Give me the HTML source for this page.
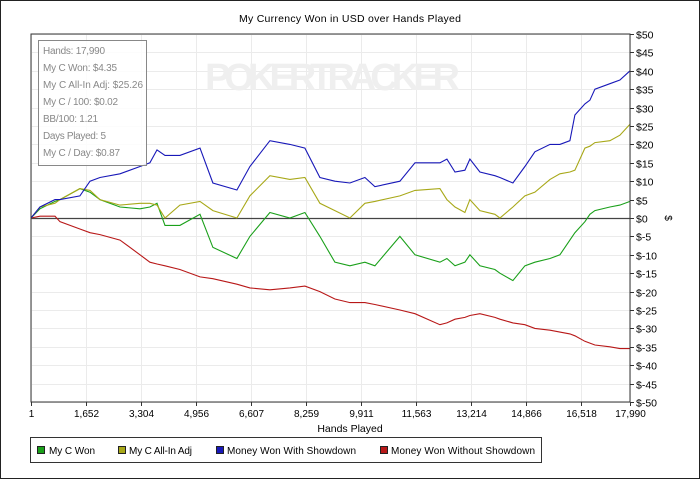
<!DOCTYPE html>
<html><head><meta charset="utf-8"><style>
body{margin:0;background:#fff;}
svg text{font-family:"Liberation Sans",sans-serif;}
</style></head><body>
<svg width="700" height="479" xmlns="http://www.w3.org/2000/svg">
<rect x="0.5" y="0.5" width="699" height="478" fill="#fff" stroke="#222"/>
<text x="350" y="22" font-size="10.5" text-anchor="middle" textLength="222">My Currency Won in USD over Hands Played</text>
<g id="grid"></g>
<text x="205" y="90" font-size="38" font-weight="bold" fill="#efefef" textLength="255">POKERTRACKER</text>
<g id="series"></g>
<rect x="31" y="34" width="599" height="368" fill="none" stroke="#333"/>
<g id="axes"></g>
<g>
<rect x="38.5" y="40.5" width="108" height="125" fill="#fff" fill-opacity="0.85" stroke="#888"/>
<g font-size="10" fill="#888">
<text x="43" y="54" textLength="62">Hands: 17,990</text>
<text x="43" y="71" textLength="74">My C Won: $4.35</text>
<text x="43" y="88" textLength="100">My C All-In Adj: $25.26</text>
<text x="43" y="105" textLength="75">My C / 100: $0.02</text>
<text x="43" y="122" textLength="55">BB/100: 1.21</text>
<text x="43" y="139" textLength="63">Days Played: 5</text>
<text x="43" y="156" textLength="77">My C / Day: $0.87</text>
</g></g>
<text x="350" y="432" font-size="10.5" text-anchor="middle">Hands Played</text>
<text x="665" y="218" font-size="10" text-anchor="middle" transform="rotate(90 665 218)">$</text>
<g>
<rect x="30.5" y="437.5" width="511" height="25" fill="#fff" stroke="#333"/>
<g font-size="10">
<rect x="37.5" y="446.5" width="7" height="7" fill="#1aa01a" stroke="#222"/><text x="49" y="454" textLength="46">My C Won</text>
<rect x="118.5" y="446.5" width="7" height="7" fill="#a8a818" stroke="#222"/><text x="129" y="454" textLength="63">My C All-In Adj</text>
<rect x="216.5" y="446.5" width="7" height="7" fill="#1818b8" stroke="#222"/><text x="227" y="454" textLength="129">Money Won With Showdown</text>
<rect x="380.5" y="446.5" width="7" height="7" fill="#b81818" stroke="#222"/><text x="391" y="454" textLength="144">Money Won Without Showdown</text>
</g></g>
</svg>
<script>
const hands=[1,270,721,871,1471,1772,2072,2673,3273,3573,3784,4024,4474,5075,5465,6186,6576,7176,7777,8228,8678,9129,9579,10030,10330,11080,11532,12282,12492,12733,13033,13183,13483,13934,14084,14474,14835,15135,15586,15886,16186,16336,16637,16787,16937,17387,17688,17990];
const showdown=[0,3,5,5,6,10,11,12,14,15,18.5,17,17,19,9.5,7.6,14,21,20,19,11,10,9.5,11,8.5,10,15,15,16,12.5,13,16,12.5,11.5,11,9.5,14,18,20,20,21,28,31,32,35,36.5,37.5,40];
const allin=[0,3,4,5,8,7.5,5,3.5,4,4,3.5,0,3.5,4.5,2,0,6,11.5,10.5,11,4,2,0,4,4.5,6,7.5,8,5,3,1.5,5,2,1,0,3,6,7,10.5,12,12.5,13,19,19.5,20.5,21,22.5,25.5];
const won=[0,2.5,4.5,5,8,7,5,3,2.5,3,4,-2,-2,1,-8,-11,-5,1.5,0,1.5,-5,-12,-13,-12,-13,-5,-10,-12,-11,-13,-12,-10,-13,-14,-15,-17,-13,-12,-11,-10,-6,-4,-1,1,2,3,3.5,4.5];
const noShowdown=[0,0.5,0.5,-1,-3,-4,-4.5,-6,-10,-12,-12.5,-13,-14,-16,-16.5,-18,-19,-19.5,-19,-18.5,-20,-22,-23,-23,-23.5,-25,-26,-29,-28.5,-27.5,-27,-26.5,-26,-27,-27.5,-28.5,-29,-30,-30.5,-31,-31.5,-32,-33.5,-34,-34.5,-35,-35.5,-35.5];
const xTicks=[1,1652,3304,4956,6607,8259,9911,11563,13214,14866,16518,17990];
const yTicks=[50,45,40,35,30,25,20,15,10,5,0,-5,-10,-15,-20,-25,-30,-35,-40,-45,-50];
const NS="http://www.w3.org/2000/svg";
const X0=31,X1=630,Y0=34,Y1=402;
const xs=h=>X0+(h-1)/(17990-1)*(X1-X0);
const ys=v=>Y0+(50-v)/100*(Y1-Y0);
function mk(t,a,p){const e=document.createElementNS(NS,t);for(const k in a)e.setAttribute(k,a[k]);p.appendChild(e);return e;}
const grid=document.getElementById('grid'),axes=document.getElementById('axes'),ser=document.getElementById('series');
yTicks.forEach(v=>{const y=Math.round(ys(v))+0.5;
 const g=mk('line',{x1:X0,x2:X1,y1:y,y2:y,stroke:v===0?'#444':'#ebebeb','stroke-width':v===0?1.2:1},v===0?ser:grid);
 
 
 const tk=mk('line',{x1:X1,x2:X1+4,y1:y,y2:y,stroke:'#333'},axes);
 
 
 const t=mk('text',{x:X1+6,y:y+4,'font-size':10.5},axes);t.textContent='$'+v;
 
 
});
xTicks.forEach(h=>{const x=Math.round(xs(h))+0.5;
 const g=mk('line',{x1:x,x2:x,y1:Y0,y2:Y1,stroke:'#ebebeb'},grid);
 
 
 const tk=mk('line',{x1:x,x2:x,y1:Y1,y2:Y1+4,stroke:'#333'},axes);
 
 
 const t=mk('text',{x:x,y:Y1+15,'font-size':10,'text-anchor':'middle'},axes);t.textContent=h.toLocaleString('en-US');
 
 
});
[[noShowdown,'#b81818','line-no-showdown'],[won,'#1aa01a','line-my-c-won'],[allin,'#a8a818','line-all-in-adj'],[showdown,'#1818b8','line-showdown']].forEach(([d,c,n])=>{
 const pts=d.map((v,i)=>xs(hands[i]).toFixed(1)+','+ys(v).toFixed(1)).join(' ');
 const p=mk('polyline',{points:pts,fill:'none',stroke:c,'stroke-width':1.1},ser);
 
 
});
</script>
</body></html>
